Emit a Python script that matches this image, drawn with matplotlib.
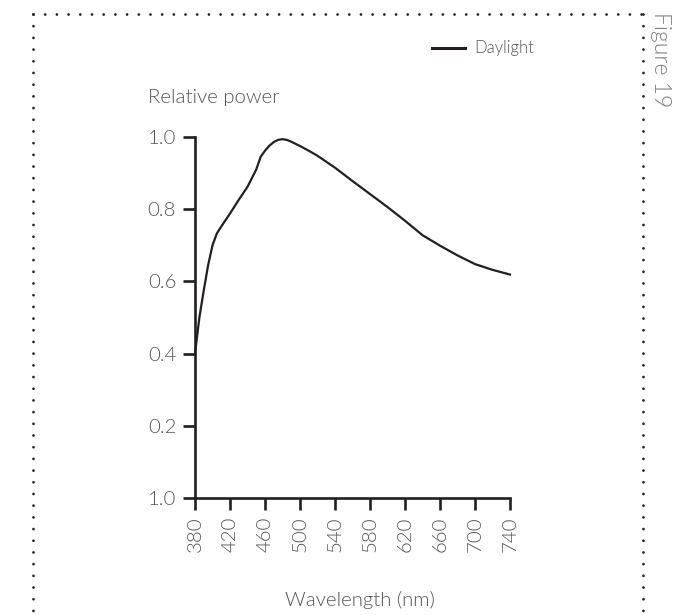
"""Relative spectral power of daylight, 380-740 nm (Figure 19)."""

import matplotlib
matplotlib.use("Agg")
import matplotlib.pyplot as plt
from matplotlib.lines import Line2D

# wavelength (nm) and relative power
wavelength = [380, 385, 390, 395, 400, 405, 410, 420, 430, 440, 450, 455, 460,
              465, 470, 475, 480, 485, 490, 500, 510, 520, 540, 560, 580, 600,
              620, 640, 660, 680, 700, 720, 740]
power = [0.40, 0.50, 0.575, 0.645, 0.70, 0.733, 0.752, 0.788, 0.826, 0.862,
         0.91, 0.945, 0.962, 0.976, 0.986, 0.992, 0.994, 0.992, 0.987, 0.975,
         0.962, 0.948, 0.915, 0.878, 0.842, 0.806, 0.768, 0.728, 0.699,
         0.672, 0.648, 0.632, 0.619]

xticks = [380, 420, 460, 500, 540, 580, 620, 660, 700, 740]
yticks = [0.0, 0.2, 0.4, 0.6, 0.8, 1.0]
ytick_labels = ["1.0", "0.2", "0.4", "0.6", "0.8", "1.0"]  # as printed in the source

INK = "#231f20"
GREY = "#555555"
FS = 14.7

plt.rcParams["font.family"] = ["Lato", "DejaVu Sans"]
plt.rcParams["font.weight"] = 300

fig = plt.figure(figsize=(6.91, 6.15), dpi=100)
ax = fig.add_axes([195 / 691, 1 - 498 / 615, 315 / 691, 361 / 615])

ax.plot(wavelength, power, color=INK, lw=1.6, clip_on=False,
        solid_joinstyle="round")
ax.set_xlim(380, 740)
ax.set_ylim(0, 1)

for s in ("top", "right"):
    ax.spines[s].set_visible(False)
for s in ("left", "bottom"):
    ax.spines[s].set_color(INK)
    ax.spines[s].set_linewidth(1.9)

ax.set_xticks(xticks)
ax.set_xticklabels([str(t) for t in xticks], rotation=90, fontweight=300)
ax.set_yticks(yticks)
ax.set_yticklabels(ytick_labels, fontweight=300)
ax.tick_params(axis="both", direction="out", length=8.5, width=1.9,
               color=INK, labelcolor=GREY, labelsize=FS, pad=5)

ax.set_xlabel("Wavelength (nm)", fontsize=FS, color=GREY, fontweight=300)
ax.xaxis.set_label_coords((360 - 195) / 315, -(591 - 498) / 361)

fig.text(148 / 691, 1 - 98 / 615, "Relative power", fontsize=FS,
         color=GREY, fontweight=300, ha="left", va="center")

# legend, placed by hand like the source
fig.add_artist(Line2D([432 / 691, 465 / 691], [1 - 47.5 / 615] * 2,
                      color=INK, lw=2.2))
fig.text(474 / 691, 1 - 47.5 / 615, "Daylight", fontsize=12, color=GREY,
         fontweight=300, ha="left", va="center")

# dotted frame: top, left, right
dots = dict(color=INK, lw=2.0, linestyle=(0, (0.01, 4.2)),
            dash_capstyle="round")
top, left, right = 1 - 14 / 615, 33 / 691, 643 / 691
fig.add_artist(Line2D([left, right], [top, top], **dots))
fig.add_artist(Line2D([left, left], [top, 0], **dots))
fig.add_artist(Line2D([right, right], [top, 0], **dots))

fig.text(661 / 691, 1 - 12 / 615, "Figure 19", rotation=-90, fontsize=16.5,
         color="#808080", fontweight=300, ha="center", va="top")

fig.savefig("out.png", dpi=100)
